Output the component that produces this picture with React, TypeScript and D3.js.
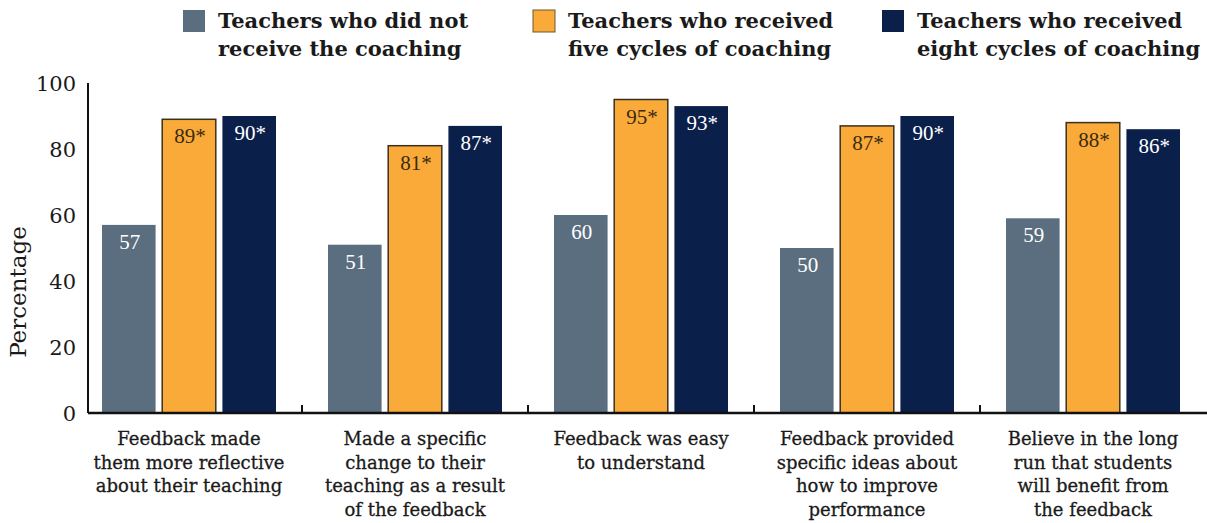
import React from 'react';
import * as d3 from 'd3';

const categories = [
  ['Feedback made', 'them more reflective', 'about their teaching'],
  ['Made a specific', 'change to their', 'teaching  as a result', 'of the feedback'],
  ['Feedback was easy', 'to understand'],
  ['Feedback provided', 'specific ideas about', 'how to improve', 'performance'],
  ['Believe in the long', 'run that students', 'will benefit from', 'the feedback'],
];
const seriesNames = [
  ['Teachers who did not', 'receive the coaching'],
  ['Teachers who received', 'five cycles of coaching'],
  ['Teachers who received', 'eight cycles of coaching'],
];
const noCoaching = [57, 51, 60, 50, 59];
const fiveCycles = [89, 81, 95, 87, 88];
const eightCycles = [90, 87, 93, 90, 86];
const starred = [false, true, true];
const yTicks = [0, 20, 40, 60, 80, 100];

const colors = ['#5a6e7f', '#f9aa38', '#0b1f4b'];
const labelColors = ['#ffffff', '#3a2a12', '#ffffff'];
const legendX = [183, 533, 882];

const W = 1207, H = 523;
const serif = "'DejaVu Serif', serif";
const times = "'Liberation Serif', serif";

export default function App() {
  const series = [noCoaching, fiveCycles, eightCycles];
  const x0 = d3.scaleBand<number>().domain(d3.range(categories.length)).range([76, 1206]);
  const groupW = 174;
  const x1 = d3.scaleBand<number>().domain([0, 1, 2]).range([0, groupW]).paddingInner(0.11);
  const y = d3.scaleLinear().domain([0, 100]).range([413, 83]);
  const groupOffset = (x0.bandwidth() - groupW) / 2;

  return (
    <div style={{ position: 'absolute', left: 0, top: 0 }}>
      <svg width={W} height={H} style={{ display: 'block', background: '#fff' }}>
        {/* legend */}
        {seriesNames.map((lines, i) => (
          <g key={i}>
            <rect x={legendX[i]} y={10} width={22} height={22} fill={colors[i]}
              stroke={i === 1 ? '#6b5a30' : 'none'} strokeWidth={i === 1 ? 1 : 0} />
            <text x={legendX[i] + 35} y={28} fontFamily={serif} fontSize={21} fontWeight="bold" fill="#1a1a1a">
              {lines.map((l, j) => (
                <tspan key={j} x={legendX[i] + 35} dy={j === 0 ? 0 : 28}>{l}</tspan>
              ))}
            </text>
          </g>
        ))}

        {/* y axis */}
        <line x1={88} x2={88} y1={y(100)} y2={y(0)} stroke="#111" strokeWidth={2} />
        {yTicks.map(t => (
          <text key={t} x={76} y={y(t) + 8} textAnchor="end" fontFamily={serif} fontSize={21} fill="#1a1a1a">{t}</text>
        ))}
        <text transform={`translate(26,${292}) rotate(-90)`} textAnchor="middle" fontFamily={serif} fontSize={23} fill="#1a1a1a">Percentage</text>

        {/* bars */}
        {categories.map((_, c) => (
          <g key={c} transform={`translate(${(x0(c) ?? 0) + groupOffset},0)`}>
            {series.map((vals, s) => {
              const bx = x1(s) ?? 0;
              const by = y(vals[c]);
              return (
                <g key={s}>
                  <rect x={bx} y={by} width={x1.bandwidth()} height={y(0) - by}
                    fill={colors[s]} stroke={s === 1 ? '#3a3020' : 'none'} strokeWidth={s === 1 ? 1.5 : 0} />
                  <text x={bx + x1.bandwidth() / 2 + 1} y={by + 24} textAnchor="middle" fontFamily={times} fontSize={21} fill={labelColors[s]}>
                    {vals[c]}{starred[s] ? '*' : ''}
                  </text>
                </g>
              );
            })}
          </g>
        ))}

        {/* x axis */}
        <line x1={88} x2={W} y1={y(0)} y2={y(0)} stroke="#111" strokeWidth={2.5} />
        {categories.slice(1).map((_, i) => (
          <line key={i} x1={x0(i + 1)} x2={x0(i + 1)} y1={y(0)} y2={y(0) - 8} stroke="#111" strokeWidth={2} />
        ))}

        {/* category labels */}
        {categories.map((lines, c) => (
          <text key={c} textAnchor="middle" fontFamily={serif} fontSize={18} fill="#1a1a1a" stroke="#1a1a1a" strokeWidth={0.3}>
            {lines.map((l, j) => (
              <tspan key={j} x={(x0(c) ?? 0) + x0.bandwidth() / 2} y={445 + j * 23.5}>{l}</tspan>
            ))}
          </text>
        ))}
      </svg>
    </div>
  );
}
